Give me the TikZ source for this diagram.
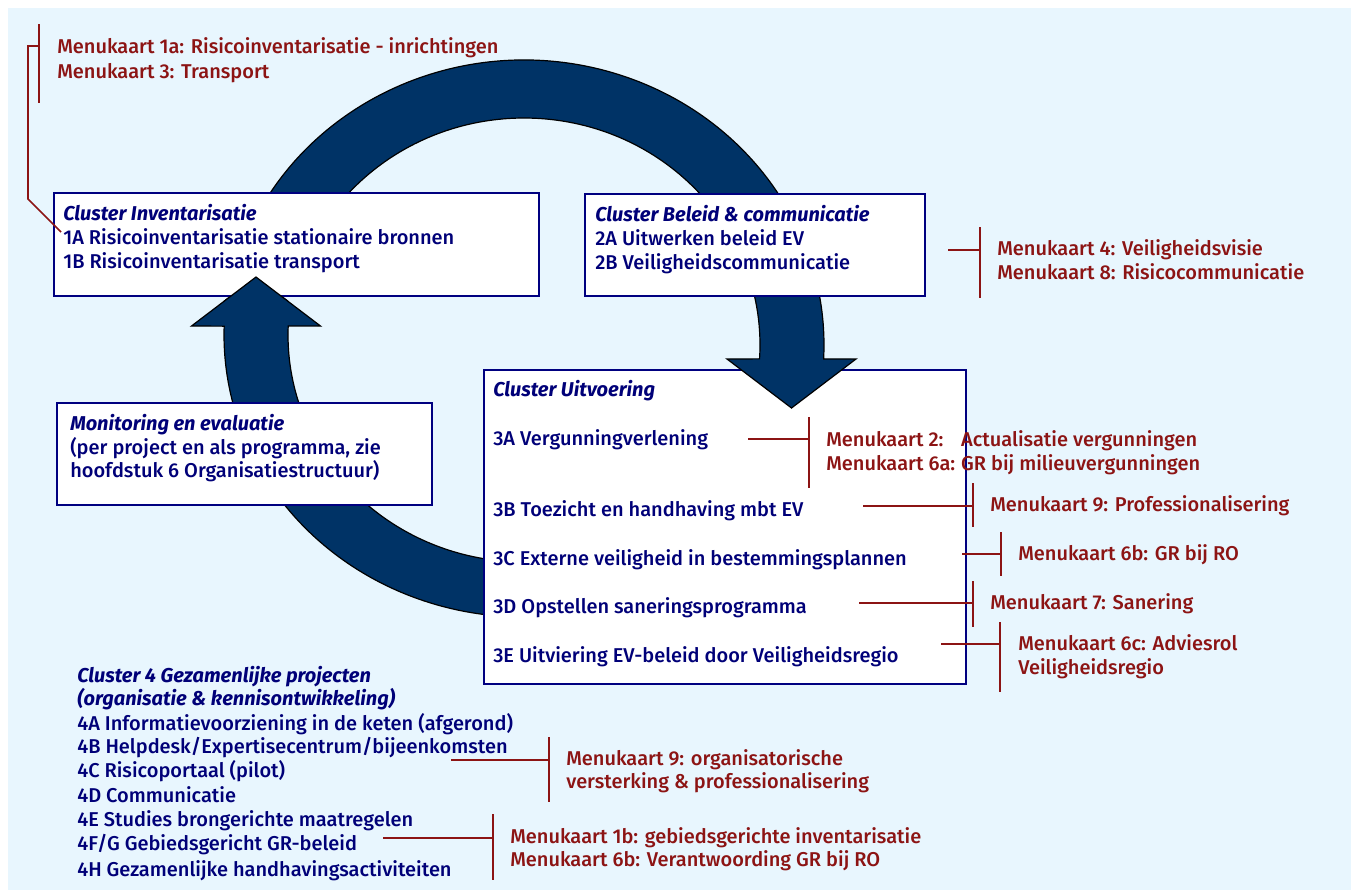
\documentclass[tikz,border=0pt]{standalone}
\usepackage{fontspec}
\setmainfont{Fira Sans}[UprightFont=* Medium, BoldFont=* Bold, ItalicFont=* Medium Italic, BoldItalicFont=* Bold Italic]
\usepackage{graphicx}

\definecolor{bgblue}{RGB}{232,246,254}
\definecolor{boxblue}{RGB}{0,0,128}
\definecolor{txtblue}{RGB}{0,0,120}
\definecolor{ringblue}{RGB}{0,51,102}
\definecolor{menured}{RGB}{140,20,20}

\newcommand{\itemfont}{\fontsize{15}{18}\selectfont}
\newcommand{\clustertitle}[1]{{\bfseries\itshape #1}}

% lower arc: from behind the Uitvoering box up to the Inventarisatie box
\newcommand{\loopback}{([shift={(524,335)}]85:300 and 282) arc[start angle=85, end angle=181.8, x radius=300, y radius=282] -- (191.5,326) -- (256,277) -- (320.5,326) -- ([shift={(524,335)}]182.3:236 and 227) arc[start angle=182.3, end angle=85, x radius=236, y radius=227] -- cycle}

\begin{document}
\begin{tikzpicture}[x=0.75pt,y=0.75pt,yscale=-1,
  ring/.style={fill=ringblue, draw=black, line width=0.9pt},
  clusterbox/.style={fill=white, draw=boxblue, line width=1.5pt},
  item/.style={anchor=base west, inner sep=0pt, text=txtblue, font=\itemfont},
  menu/.style={anchor=base west, inner sep=0pt, text=menured, font=\itemfont},
  menuline/.style={draw=menured, line width=1.3pt}]
\useasboundingbox (0,0) rectangle (1351,890);
%Shape: Rectangle [background]
\fill[bgblue] (8,8) rectangle (1351,890);

%Shape: Arc Arrow [lower]
\draw[ring] \loopback;

%Shape: Rectangle [Monitoring]
\draw[clusterbox] (57,403) rectangle (432,505);
%Shape: Rectangle [Uitvoering]
\draw[clusterbox] (484,370) rectangle (966,684);

%Shape: Arc Arrow [upper]
\draw[ring] ([shift={(524,345)}]199.5:300 and 285) arc[start angle=199.5, end angle=362.8, x radius=300, y radius=285] -- (856,359) -- (791.5,408) -- (727,359) -- ([shift={(524,345)}]363.5:236 and 227) arc[start angle=363.5, end angle=204.7, x radius=236, y radius=227] -- cycle;

%Shape: Rectangle [Inventarisatie]
\draw[clusterbox] (54,193) rectangle (539,296);
%Shape: Rectangle [Beleid]
\draw[clusterbox] (585,194) rectangle (925,296);

% tip of the lower arrow over the box
\begin{scope}
\clip (150,180) rectangle (350,300);
\draw[ring] \loopback;
\end{scope}

% Text Node
\node[item] (inv-title) at (63,220) {\clustertitle{Cluster Inventarisatie}};
\node[item] (inv-1a) at (63,244) {1A Risicoinventarisatie stationaire bronnen};
\node[item] (inv-1b) at (63,268) {1B Risicoinventarisatie transport};

\node[item] (bel-title) at (595,221) {\clustertitle{Cluster Beleid \& communicatie}};
\node[item] (bel-2a) at (595,245) {2A Uitwerken beleid EV};
\node[item] (bel-2b) at (595,269) {2B Veiligheidscommunicatie};

\node[item] (uit-title) at (493,396) {\clustertitle{Cluster Uitvoering}};
\node[item] (uit-3a) at (493,445) {3A Vergunningverlening};
\node[item] (uit-3b) at (493,516) {3B Toezicht en handhaving mbt EV};
\node[item] (uit-3c) at (493,565) {3C Externe veiligheid in bestemmingsplannen};
\node[item] (uit-3d) at (493,613) {3D Opstellen saneringsprogramma};
\node[item] (uit-3e) at (493,662) {3E Uitviering EV-beleid door Veiligheidsregio};

\node[item] (mon-title) at (70,430) {\clustertitle{Monitoring en evaluatie}};
\node[item] (mon-1) at (70,454) {(per project en als programma, zie};
\node[item] (mon-2) at (70,477) {hoofdstuk 6 Organisatiestructuur)};

\node[item] (gez-title) at (77,682) {\clustertitle{Cluster 4 Gezamenlijke projecten}};
\node[item] (gez-sub) at (77,705) {\clustertitle{(organisatie \& kennisontwikkeling)}};
\node[item] (gez-4a) at (77,730) {4A Informatievoorziening in de keten (afgerond)};
\node[item] (gez-4b) at (77,753) {4B Helpdesk/Expertisecentrum/bijeenkomsten};
\node[item] (gez-4c) at (77,777) {4C Risicoportaal (pilot)};
\node[item] (gez-4d) at (77,802) {4D Communicatie};
\node[item] (gez-4e) at (77,826) {4E Studies brongerichte maatregelen};
\node[item] (gez-4fg) at (77,850) {4F/G Gebiedsgericht GR-beleid};
\node[item] (gez-4h) at (77,876) {4H Gezamenlijke handhavingsactiviteiten};

% Menukaarten
\node[menu] (mk1a) at (57,53) {Menukaart 1a: Risicoinventarisatie - inrichtingen};
\node[menu] (mk3) at (57,78) {Menukaart 3: Transport};
\node[menu] (mk4) at (997,255) {Menukaart 4: Veiligheidsvisie};
\node[menu] (mk8) at (997,279) {Menukaart 8: Risicocommunicatie};
\node[menu] (mk2) at (826,446) {Menukaart 2:};
\node[menu] (mk6a) at (826,470) {Menukaart 6a:};
\coordinate (mkgap) at ([xshift=4pt]mk6a.base east);
\node[menu] (mk2-txt) at (mkgap |- mk2.base) {Actualisatie vergunningen};
\node[menu] (mk6a-txt) at (mkgap) {GR bij milieuvergunningen};
\node[menu] (mk9) at (990,511) {Menukaart 9: Professionalisering};
\node[menu] (mk6b) at (1018,560) {Menukaart 6b: GR bij RO};
\node[menu] (mk7) at (990,609) {Menukaart 7: Sanering};
\node[menu] (mk6c) at (1018,650) {Menukaart 6c: Adviesrol};
\node[menu] (mk6c-2) at (1018,674) {Veiligheidsregio};
\node[menu] (mk9o) at (566,765) {Menukaart 9: organisatorische};
\node[menu] (mk9o-2) at (566,788) {versterking \& professionalisering};
\node[menu] (mk1b) at (510,843) {Menukaart 1b: gebiedsgerichte inventarisatie};
\node[menu] (mk6bv) at (510,866) {Menukaart 6b: Verantwoording GR bij RO};

%Straight Lines [brackets]
\coordinate (to-1a) at (61,232);
\coordinate (j1) at (39,46);
\draw[menuline] (39,24) -- (39,103);
\draw[menuline] (j1) -- (28,46) -- (28,199) -- (to-1a);

\coordinate (s-bel) at (948,250); \coordinate (j-bel) at (980,250);
\draw[menuline] (s-bel) -- (j-bel);
\draw[menuline] (980,227) -- (980,298);

\coordinate (s-3a) at (748,439); \coordinate (j-3a) at (809,439);
\draw[menuline] (s-3a) -- (j-3a);
\draw[menuline] (809,417) -- (809,488);

\coordinate (s-3b) at (863,506); \coordinate (j-3b) at (973,506);
\draw[menuline] (s-3b) -- (j-3b);
\draw[menuline] (973,483) -- (973,527);

\coordinate (s-3c) at (962,554); \coordinate (j-3c) at (1001,554);
\draw[menuline] (s-3c) -- (j-3c);
\draw[menuline] (1001,532) -- (1001,576);

\coordinate (s-3d) at (859,603); \coordinate (j-3d) at (973,603);
\draw[menuline] (s-3d) -- (j-3d);
\draw[menuline] (973,581) -- (973,627);

\coordinate (s-3e) at (941,644); \coordinate (j-3e) at (1000,644);
\draw[menuline] (s-3e) -- (j-3e);
\draw[menuline] (1000,622) -- (1000,692);

\coordinate (s-4b) at (451,760); \coordinate (j-4b) at (549,760);
\draw[menuline] (s-4b) -- (j-4b);
\draw[menuline] (549,737) -- (549,802);

\coordinate (s-4fg) at (383,838); \coordinate (j-4fg) at (493,838);
\draw[menuline] (s-4fg) -- (j-4fg);
\draw[menuline] (493,814) -- (493,880);

\end{tikzpicture}
\end{document}
